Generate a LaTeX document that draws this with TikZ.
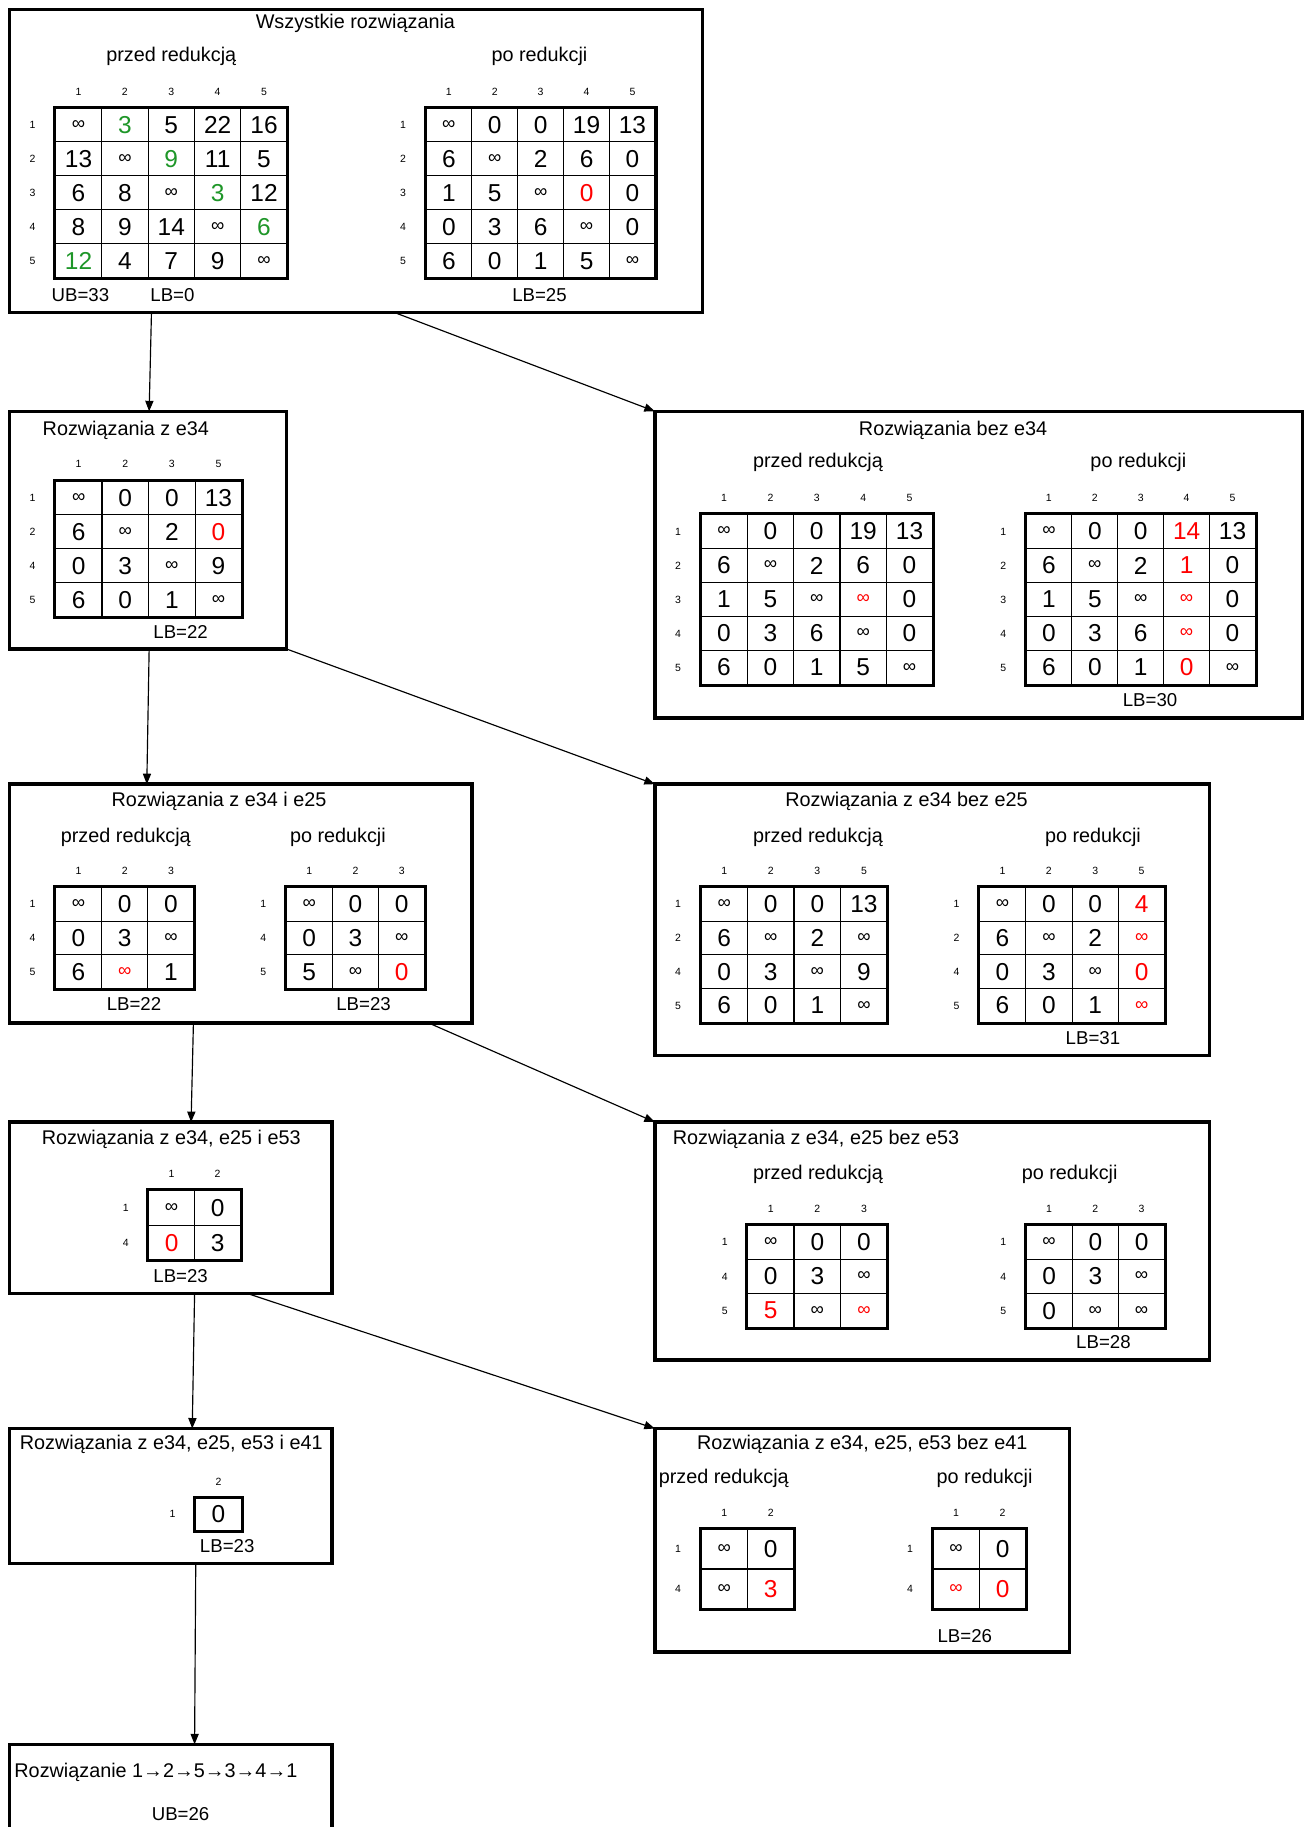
\documentclass[tikz,border=0pt]{standalone}
\usepackage{fontspec}
\setmainfont{Liberation Sans}
\usetikzlibrary{matrix,calc,fit,arrows.meta}
\newcommand{\oo}{{\fontsize{8}{8}\selectfont ∞}}
\definecolor{grn}{RGB}{30,150,40}
\definecolor{rdd}{RGB}{255,0,0}
\tikzset{
 bx/.style={draw, line width=1.5pt, inner sep=0pt, outer sep=0pt},
 ttl/.style={font=\fontsize{8.5}{10}\selectfont, inner sep=0pt},
 lbl/.style={font=\fontsize{8}{10}\selectfont, inner sep=0pt},
 hdr/.style={font=\fontsize{4.5}{5}\selectfont, inner sep=0pt},
 cellst/.style={draw, line width=0.5pt, inner sep=0pt, outer sep=0pt, anchor=center, font=\fontsize{10.5}{12}\selectfont},
 gridout/.style={line width=1.3pt},
 arr/.style={line width=0.5pt, -{Triangle[length=4.5pt,width=3.5pt]}},
 gcol/.style={text=grn}, rcol/.style={text=rdd}
}
% name, x, y, cell width, cell height, column labels, row labels, body
\newcommand{\tspm}[8]{%
 \matrix (#1) [matrix of nodes, ampersand replacement=\&, anchor=north west, inner sep=0pt, outer sep=0pt, column sep=-0.5pt, row sep=-0.5pt, nodes={cellst, minimum width=#4, minimum height=#5}] at (#2,#3) {#8};
 \draw[gridout] (#1.north west) rectangle (#1.south east);
 \foreach \l [count=\i] in {#6} \node[hdr] (#1-h\i) at ($(#1-1-\i.north)+(0,-14)$) {\l};
 \foreach \l [count=\i] in {#7} \node[hdr] (#1-r\i) at ($(#1-\i-1.west)+(-19.5,0)$) {\l};
}
\begin{document}
\begin{tikzpicture}[x=0.5pt,y=-0.5pt]
\useasboundingbox (0,0) rectangle (1125,1568);
\fill[white] (0,0) rectangle (1125,1568);

% ---------- Box 1
\node[bx, fit={(8,8) (603,268)}] (b1) {};
\node[ttl] (t1) at (305,20) {Wszystkie rozwiązania};
\node[ttl] (s1a) at (147,48) {przed redukcją};
\node[ttl] (s1b) at (463,48) {po redukcji};
\tspm{m1a}{47}{92}{19.9pt}{14.6pt}{1,2,3,4,5}{1,2,3,4,5}{
 \oo \& |[gcol]| 3 \& 5 \& 22 \& 16 \\
 13 \& \oo \& |[gcol]| 9 \& 11 \& 5 \\
 6 \& 8 \& \oo \& |[gcol]| 3 \& 12 \\
 8 \& 9 \& 14 \& \oo \& |[gcol]| 6 \\
 |[gcol]| 12 \& 4 \& 7 \& 9 \& \oo \\
}
\tspm{m1b}{365}{92}{19.7pt}{14.6pt}{1,2,3,4,5}{1,2,3,4,5}{
 \oo \& 0 \& 0 \& 19 \& 13 \\
 6 \& \oo \& 2 \& 6 \& 0 \\
 1 \& 5 \& \oo \& |[rcol]| 0 \& 0 \\
 0 \& 3 \& 6 \& \oo \& 0 \\
 6 \& 0 \& 1 \& 5 \& \oo \\
}
\node[lbl] (u1) at (69,253) {UB=33};
\node[lbl] (l1a) at (148,253) {LB=0};
\node[lbl] (l1b) at (463,253) {LB=25};

% ---------- Box 2
\node[bx, fit={(8,353) (246,557)}] (b2) {};
\node[ttl] (t2) at (108,369) {Rozwiązania z e34};
\tspm{m2}{47}{412}{20pt}{14.625pt}{1,2,3,5}{1,2,4,5}{
 \oo \& 0 \& 0 \& 13 \\
 6 \& \oo \& 2 \& |[rcol]| 0 \\
 0 \& 3 \& \oo \& 9 \\
 6 \& 0 \& 1 \& \oo \\
}
\node[lbl] (l2) at (155,542) {LB=22};

% ---------- Box 3
\node[bx, fit={(562,353) (1118,616)}] (b3) {};
\node[ttl] (t3) at (818,369) {Rozwiązania bez e34};
\node[ttl] (s3a) at (702,397) {przed redukcją};
\node[ttl] (s3b) at (977,397) {po redukcji};
\tspm{m3a}{601}{441}{19.9pt}{14.6pt}{1,2,3,4,5}{1,2,3,4,5}{
 \oo \& 0 \& 0 \& 19 \& 13 \\
 6 \& \oo \& 2 \& 6 \& 0 \\
 1 \& 5 \& \oo \& |[rcol]| \oo \& 0 \\
 0 \& 3 \& 6 \& \oo \& 0 \\
 6 \& 0 \& 1 \& 5 \& \oo \\
}
\tspm{m3b}{880}{441}{19.7pt}{14.6pt}{1,2,3,4,5}{1,2,3,4,5}{
 \oo \& 0 \& 0 \& |[rcol]| 14 \& 13 \\
 6 \& \oo \& 2 \& |[rcol]| 1 \& 0 \\
 1 \& 5 \& \oo \& |[rcol]| \oo \& 0 \\
 0 \& 3 \& 6 \& |[rcol]| \oo \& 0 \\
 6 \& 0 \& 1 \& |[rcol]| 0 \& \oo \\
}
\node[lbl] (l3) at (987,601) {LB=30};

% ---------- Box 4
\node[bx, fit={(8,673) (405,878)}] (b4) {};
\node[ttl] (t4) at (188,688) {Rozwiązania z e34 i e25};
\node[ttl] (s4a) at (108,719) {przed redukcją};
\node[ttl] (s4b) at (290,719) {po redukcji};
\tspm{m4a}{47}{761}{19.85pt}{14.5pt}{1,2,3}{1,4,5}{
 \oo \& 0 \& 0 \\
 0 \& 3 \& \oo \\
 6 \& |[rcol]| \oo \& 1 \\
}
\tspm{m4b}{245}{761}{19.85pt}{14.5pt}{1,2,3}{1,4,5}{
 \oo \& 0 \& 0 \\
 0 \& 3 \& \oo \\
 5 \& \oo \& |[rcol]| 0 \\
}
\node[lbl] (l4a) at (115,862) {LB=22};
\node[lbl] (l4b) at (312,862) {LB=23};

% ---------- Box 5
\node[bx, fit={(562,673) (1038,906)}] (b5) {};
\node[ttl] (t5) at (778,688) {Rozwiązania z e34 bez e25};
\node[ttl] (s5a) at (702,719) {przed redukcją};
\node[ttl] (s5b) at (938,719) {po redukcji};
\tspm{m5a}{601}{761}{20pt}{14.5pt}{1,2,3,5}{1,2,4,5}{
 \oo \& 0 \& 0 \& 13 \\
 6 \& \oo \& 2 \& \oo \\
 0 \& 3 \& \oo \& 9 \\
 6 \& 0 \& 1 \& \oo \\
}
\tspm{m5b}{840}{761}{19.9pt}{14.5pt}{1,2,3,5}{1,2,4,5}{
 \oo \& 0 \& 0 \& |[rcol]| 4 \\
 6 \& \oo \& 2 \& |[rcol]| \oo \\
 0 \& 3 \& \oo \& |[rcol]| 0 \\
 6 \& 0 \& 1 \& |[rcol]| \oo \\
}
\node[lbl] (l5) at (938,891) {LB=31};

% ---------- Box 6
\node[bx, fit={(8,963) (285,1110)}] (b6) {};
\node[ttl] (t6) at (147,978) {Rozwiązania z e34, e25 i e53};
\tspm{m6}{127}{1021}{19.75pt}{15pt}{1,2}{1,4}{
 \oo \& 0 \\
 |[rcol]| 0 \& 3 \\
}
\node[lbl] (l6) at (155,1095) {LB=23};

% ---------- Box 7
\node[bx, fit={(562,963) (1038,1167)}] (b7) {};
\node[ttl, anchor=west] (t7) at (577,978) {Rozwiązania z e34, e25 bez e53};
\node[ttl] (s7a) at (702,1008) {przed redukcją};
\node[ttl] (s7b) at (918,1008) {po redukcji};
\tspm{m7a}{641}{1051}{20pt}{14.67pt}{1,2,3}{1,4,5}{
 \oo \& 0 \& 0 \\
 0 \& 3 \& \oo \\
 |[rcol]| 5 \& \oo \& |[rcol]| \oo \\
}
\tspm{m7b}{880}{1051}{19.85pt}{14.67pt}{1,2,3}{1,4,5}{
 \oo \& 0 \& 0 \\
 0 \& 3 \& \oo \\
 0 \& \oo \& \oo \\
}
\node[lbl] (l7) at (947,1152) {LB=28};

% ---------- Box 8
\node[bx, fit={(8,1226) (285,1342)}] (b8) {};
\node[ttl] (t8) at (147,1240) {Rozwiązania z e34, e25, e53 i e41};
\tspm{m8}{167}{1285}{20pt}{14pt}{2}{1}{
 0 \\
}
\node[lbl] (l8) at (195,1327) {LB=23};

% ---------- Box 9
\node[bx, fit={(562,1226) (918,1418)}] (b9) {};
\node[ttl] (t9) at (740,1240) {Rozwiązania z e34, e25, e53 bez e41};
\node[ttl, anchor=west] (s9a) at (565,1269) {przed redukcją};
\node[ttl] (s9b) at (845,1269) {po redukcji};
\tspm{m9a}{601}{1312}{20pt}{17pt}{1,2}{1,4}{
 \oo \& 0 \\
 \oo \& |[rcol]| 3 \\
}
\tspm{m9b}{800}{1312}{20pt}{17pt}{1,2}{1,4}{
 \oo \& 0 \\
 |[rcol]| \oo \& |[rcol]| 0 \\
}
\node[lbl] (l9) at (828,1404) {LB=26};

% ---------- Box 10 (cut off at the bottom)
\node[bx, fit={(8,1497) (285,1600)}] (b10) {};
\node[ttl, anchor=west] (t10) at (12,1521) {Rozwiązanie 1→2→5→3→4→1};
\node[lbl] (u10) at (155,1557) {UB=26};

% ---------- Arrows
\draw[arr] ($(b1.south west)+(122,0)$) -- ($(b2.north west)+(120,0)$);
\draw[arr] ($(b1.south west)+(330,0)$) -- (b3.north west);
\draw[arr] ($(b2.south west)+(120,0)$) -- ($(b4.north west)+(118,0)$);
\draw[arr] (b2.south east) -- (b5.north west);
\draw[arr] ($(b4.south west)+(158,0)$) -- ($(b6.north west)+(156,0)$);
\draw[arr] ($(b4.south west)+(360,0)$) -- (b7.north west);
\draw[arr] ($(b6.south west)+(159,0)$) -- ($(b8.north west)+(157,0)$);
\draw[arr] ($(b6.south west)+(204,0)$) -- (b9.north west);
\draw[arr] ($(b8.south west)+(160,0)$) -- ($(b10.north west)+(159,0)$);
\end{tikzpicture}
\end{document}
